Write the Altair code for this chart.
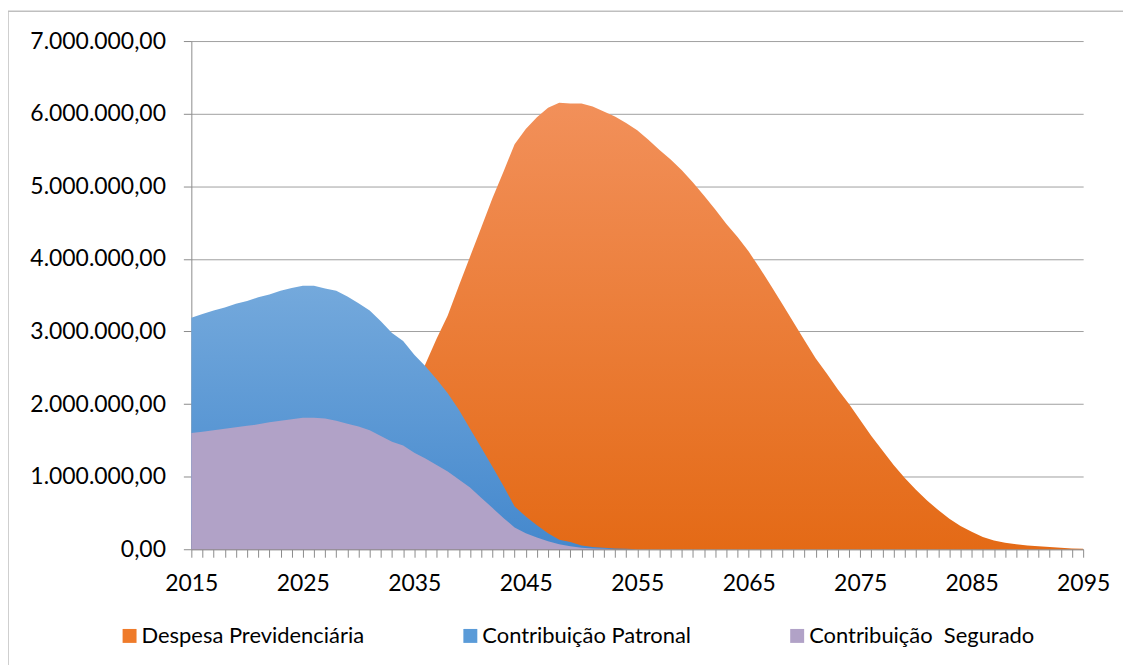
import altair as alt
import pandas as pd

# ---- data (values in millions) ----
years_despesa = list(range(2015, 2096))
despesa = [0.20, 0.25, 0.30, 0.36, 0.42, 0.48, 0.55, 0.62, 0.70, 0.78,
           0.87, 0.96, 1.06, 1.17, 1.29, 1.42, 1.56, 1.71, 1.87, 2.03,
           2.20, 2.55, 2.90, 3.22, 3.63, 4.03, 4.43, 4.83, 5.20, 5.58,
           5.79, 5.95, 6.08, 6.15, 6.14, 6.14, 6.10, 6.03, 5.96, 5.87,
           5.77, 5.64, 5.50, 5.37, 5.22, 5.05, 4.87, 4.68, 4.48, 4.30,
           4.10, 3.87, 3.63, 3.38, 3.13, 2.88, 2.63, 2.42, 2.20, 2.00,
           1.78, 1.56, 1.36, 1.16, 0.98, 0.82, 0.67, 0.54, 0.42, 0.32,
           0.24, 0.17, 0.12, 0.09, 0.07, 0.05, 0.04, 0.03, 0.02, 0.01,
           0.005]

years_patronal = list(range(2015, 2056))
patronal = [3.19, 3.24, 3.29, 3.33, 3.38, 3.42, 3.47, 3.51, 3.56, 3.60,
            3.63, 3.63, 3.59, 3.56, 3.48, 3.39, 3.29, 3.14, 2.98, 2.87,
            2.68, 2.52, 2.34, 2.15, 1.92, 1.66, 1.40, 1.14, 0.87, 0.59,
            0.45, 0.33, 0.22, 0.13, 0.10, 0.05, 0.03, 0.02, 0.01, 0.005,
            0.0]

years_segurado = list(range(2015, 2054))
segurado = [1.60, 1.62, 1.64, 1.66, 1.68, 1.70, 1.72, 1.75, 1.77, 1.79,
            1.81, 1.81, 1.80, 1.77, 1.73, 1.69, 1.64, 1.56, 1.48, 1.43,
            1.33, 1.25, 1.16, 1.07, 0.96, 0.85, 0.71, 0.57, 0.43, 0.30,
            0.22, 0.16, 0.11, 0.07, 0.04, 0.02, 0.01, 0.005, 0.0]

series_names = ["Despesa Previdenciária", "Contribuição Patronal", "Contribuição\u00a0 Segurado"]
legend_colors = ["#EF7B2A", "#5A9BD8", "#B1A2C7"]
y_ticks = [0, 1e6, 2e6, 3e6, 4e6, 5e6, 6e6, 7e6]
x_ticks = list(range(2015, 2096))

df_d = pd.DataFrame({"ano": years_despesa, "valor": [v * 1e6 for v in despesa], "serie": series_names[0]})
df_p = pd.DataFrame({"ano": years_patronal, "valor": [v * 1e6 for v in patronal], "serie": series_names[1]})
df_s = pd.DataFrame({"ano": years_segurado, "valor": [v * 1e6 for v in segurado], "serie": series_names[2]})
df_all = pd.concat([df_d, df_p, df_s], ignore_index=True)

FONT = "Lato"

x_enc = alt.X(
    "ano:Q",
    scale=alt.Scale(domain=[2015, 2095], nice=False, zero=False),
    axis=alt.Axis(
        values=x_ticks,
        format="d",
        labelExpr="datum.value % 10 == 5 ? datum.label : ''",
        labelOverlap=False,
        labelFlush=False,
        title=None,
        grid=False,
        domainColor="#8C8C8C",
        tickColor="#8C8C8C",
        tickSize=8,
        labelFontSize=23,
        labelFont=FONT,
        labelColor="#000000",
        labelPadding=15,
    ),
)
y_enc = alt.Y(
    "valor:Q",
    scale=alt.Scale(domain=[0, 7e6], nice=False),
    axis=alt.Axis(
        values=y_ticks,
        labelExpr="datum.value == 0 ? '0,00' : format(datum.value / 1e6, 'd') + '.000.000,00'",
        title=None,
        grid=True,
        gridColor="#A0A0A0",
        domainColor="#8C8C8C",
        tickColor="#8C8C8C",
        tickSize=8,
        labelFontSize=23,
        labelFont=FONT,
        labelColor="#000000",
        labelPadding=18,
    ),
)


def grad(top, bottom):
    return alt.Gradient(
        gradient="linear",
        stops=[alt.GradientStop(color=top, offset=0), alt.GradientStop(color=bottom, offset=1)],
        x1=0, x2=0, y1=0, y2=1,
    )


area_d = alt.Chart(df_d).mark_area(color=grad("#F2905A", "#E46A16")).encode(x=x_enc, y=y_enc)
area_p = alt.Chart(df_p).mark_area(color=grad("#74A9DC", "#4488CD")).encode(x=x_enc, y=y_enc)
area_s = alt.Chart(df_s).mark_area(color="#B1A2C7").encode(x=x_enc, y=y_enc)

legend_layer = alt.Chart(df_all).mark_point(shape="square", filled=True, opacity=0).encode(
    x=x_enc,
    y=y_enc,
    color=alt.Color(
        "serie:N",
        scale=alt.Scale(domain=series_names, range=legend_colors),
        legend=alt.Legend(
            title=None,
            orient="none",
            legendX=-73,
            legendY=586,
            direction="horizontal",
            symbolType="square",
            symbolSize=196,
            symbolOpacity=1,
            symbolStrokeWidth=0,
            labelFont=FONT,
            labelFontSize=22,
            labelColor="#000000",
            labelOffset=1,
            columnPadding=95,
            labelLimit=400,
        ),
    ),
)

border = alt.Chart(df_all.head(1)).mark_rect(fill=None, stroke="#BFBFBF", strokeWidth=1.5).encode(
    x=alt.value(-184), x2=alt.value(960), y=alt.value(-30), y2=alt.value(650)
)

chart = (
    alt.layer(border, area_d, area_p, area_s, legend_layer)
    .properties(
        width=895,
        height=510,
        autosize=alt.AutoSizeParams(type="none"),
        padding={"left": 184, "top": 32, "right": 40, "bottom": 115},
        background="#FFFFFF",
    )
    .configure_view(stroke=None)
)

chart.save("out.html", embed_options={"renderer": "svg", "actions": False})
